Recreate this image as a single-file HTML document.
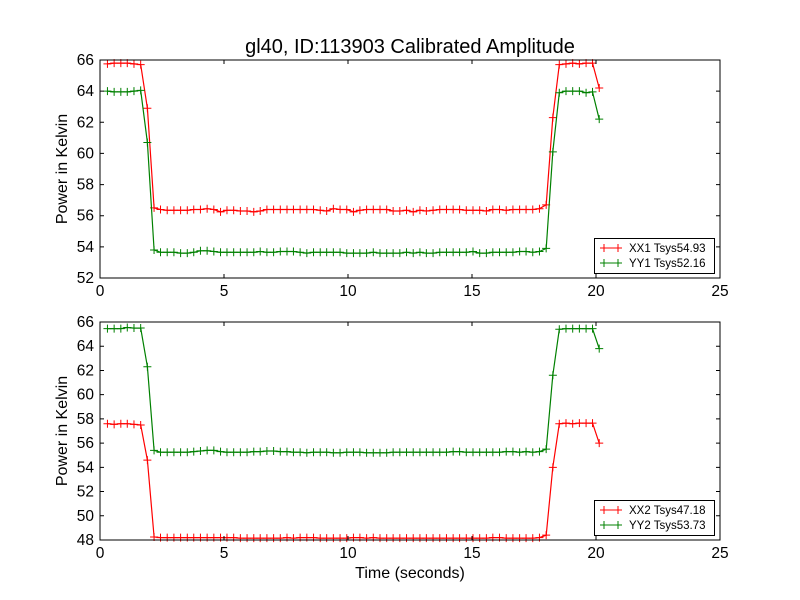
<!DOCTYPE html>
<html><head><meta charset="utf-8"><style>
html,body{margin:0;padding:0;background:#fff;}
svg{display:block;font-family:"Liberation Sans","DejaVu Sans",sans-serif;}
</style></head><body>
<svg id="chart" width="800" height="600" xmlns="http://www.w3.org/2000/svg">
<rect width="800" height="600" fill="#fff"/>
<text x="410" y="53" font-size="20" text-anchor="middle">gl40, ID:113903 Calibrated Amplitude</text>
<text x="410" y="578" font-size="16" text-anchor="middle">Time (seconds)</text>
</svg>
<script>
const times=[0.30,0.57,0.84,1.10,1.37,1.64,1.91,2.18,2.44,2.71,2.98,3.25,3.52,3.78,4.05,4.32,4.59,4.86,5.12,5.39,5.66,5.93,6.20,6.46,6.73,7.00,7.27,7.54,7.80,8.07,8.34,8.61,8.88,9.14,9.41,9.68,9.95,10.22,10.48,10.75,11.02,11.29,11.56,11.82,12.09,12.36,12.63,12.90,13.16,13.43,13.70,13.97,14.24,14.50,14.77,15.04,15.31,15.58,15.84,16.11,16.38,16.65,16.92,17.18,17.45,17.72,17.99,18.26,18.52,18.79,19.06,19.33,19.60,19.86,20.13];
const xx1=[65.75,65.8,65.8,65.8,65.75,65.7,62.9,56.5,56.4,56.35,56.35,56.35,56.35,56.4,56.4,56.45,56.4,56.25,56.35,56.35,56.3,56.3,56.25,56.3,56.4,56.4,56.4,56.4,56.4,56.4,56.4,56.4,56.35,56.3,56.45,56.4,56.4,56.25,56.35,56.4,56.4,56.4,56.4,56.3,56.3,56.35,56.25,56.35,56.3,56.35,56.4,56.4,56.4,56.4,56.35,56.35,56.35,56.3,56.4,56.4,56.35,56.4,56.4,56.4,56.4,56.45,56.7,62.3,65.7,65.75,65.8,65.75,65.8,65.8,64.2];
const yy1=[64.0,63.95,63.95,63.95,64.0,64.05,60.7,53.8,53.65,53.65,53.65,53.6,53.6,53.65,53.75,53.75,53.7,53.65,53.65,53.65,53.65,53.65,53.65,53.7,53.65,53.65,53.7,53.7,53.7,53.65,53.6,53.65,53.65,53.65,53.65,53.65,53.6,53.6,53.6,53.6,53.65,53.6,53.6,53.6,53.6,53.65,53.6,53.65,53.6,53.6,53.65,53.65,53.65,53.65,53.65,53.7,53.6,53.6,53.65,53.65,53.65,53.65,53.7,53.7,53.65,53.7,53.9,60.1,63.9,64.0,64.0,64.0,63.9,63.95,62.2];
const xx2=[57.6,57.55,57.6,57.6,57.55,57.5,54.6,48.25,48.2,48.2,48.2,48.2,48.2,48.2,48.2,48.2,48.2,48.2,48.2,48.2,48.15,48.15,48.15,48.15,48.15,48.15,48.15,48.2,48.15,48.2,48.2,48.2,48.15,48.15,48.15,48.15,48.15,48.2,48.2,48.15,48.2,48.15,48.15,48.15,48.15,48.15,48.15,48.15,48.15,48.15,48.15,48.15,48.15,48.15,48.15,48.15,48.15,48.15,48.2,48.2,48.15,48.15,48.15,48.15,48.15,48.2,48.4,54.0,57.6,57.65,57.6,57.65,57.65,57.65,56.0];
const yy2=[65.45,65.45,65.45,65.55,65.5,65.5,62.3,55.4,55.25,55.25,55.25,55.25,55.25,55.3,55.35,55.4,55.4,55.3,55.25,55.25,55.25,55.25,55.3,55.3,55.35,55.35,55.3,55.3,55.25,55.25,55.2,55.25,55.25,55.25,55.2,55.2,55.25,55.25,55.25,55.2,55.2,55.2,55.2,55.25,55.25,55.25,55.25,55.25,55.25,55.25,55.25,55.25,55.3,55.3,55.25,55.25,55.25,55.25,55.25,55.25,55.3,55.3,55.25,55.3,55.25,55.3,55.5,61.6,65.4,65.45,65.45,65.45,65.45,65.45,63.8];
const xTicks=[0,5,10,15,20,25];
const yTicksTop=[52,54,56,58,60,62,64,66];
const yTicksBot=[48,50,52,54,56,58,60,62,64,66];
const legendTop=["XX1 Tsys54.93","YY1 Tsys52.16"];
const legendBot=["XX2 Tsys47.18","YY2 Tsys53.73"];

const NS="http://www.w3.org/2000/svg";
const svg=document.getElementById('chart');
function mk(tag,attrs,parent){const e=document.createElementNS(NS,tag);for(const k in attrs)e.setAttribute(k,attrs[k]);(parent||svg).appendChild(e);return e;}

function panel(name,top,bottom,ymin,ymax,yTicks,series,colors,labels,legendY){
  const L=100,R=720;
  const g=mk('g',{});
  
  
  const xs=v=>L+(v-0)/(25-0)*(R-L);
  const ys=v=>bottom-(v-ymin)/(ymax-ymin)*(bottom-top);
  series.forEach((s,si)=>{
    const pts=times.map((t,i)=>xs(t).toFixed(1)+','+ys(s[i]).toFixed(1)).join(' ');
    const pl=mk('polyline',{points:pts,fill:'none',stroke:colors[si],'stroke-width':1.2},g);
    
    
    times.forEach((t,i)=>{
      const x=xs(t),y=ys(s[i]);
      const m=mk('path',{d:`M${x-4},${y}H${x+4}M${x},${y-4}V${y+4}`,stroke:colors[si],'stroke-width':1},g);
      
      
    });
  });
  const fr=mk('rect',{x:L,y:top,width:R-L,height:bottom-top,fill:'none',stroke:'#000','stroke-width':1},g);
  
  
  xTicks.forEach(v=>{
    const x=xs(v);
    mk('path',{d:`M${x},${bottom}v-4M${x},${top}v4`,stroke:'#000'},g);
    const t=mk('text',{x:x,y:bottom+18,'font-size':15.5,'text-anchor':'middle'},g);
    t.textContent=v;
    
    
  });
  yTicks.forEach(v=>{
    const y=ys(v);
    mk('path',{d:`M${L},${y}h4M${R},${y}h-4`,stroke:'#000'},g);
    const t=mk('text',{x:L-6,y:y+5,'font-size':15.5,'text-anchor':'end'},g);
    t.textContent=v;
    
    
  });
  const yl=mk('text',{x:0,y:0,'font-size':16,'text-anchor':'middle',transform:`translate(67,${(top+bottom)/2}) rotate(-90)`},g);
  yl.textContent='Power in Kelvin';
  
  
  const lg=mk('g',{},g);
  
  
  mk('rect',{x:594.5,y:legendY+0.5,width:120,height:35,fill:'#fff',stroke:'#000'},lg);
  labels.forEach((lab,i)=>{
    const y=legendY+10+i*15;
    mk('path',{d:`M600,${y}H622M604,${y-4}v8M618,${y-4}v8`,stroke:colors[i]},lg);
    const t=mk('text',{x:629,y:y+4,'font-size':11.5},lg);
    t.textContent=lab;
    
    
  });
}
panel('top-panel',60,278,52,66,yTicksTop,[xx1,yy1],['#ff0000','#008000'],legendTop,238);
panel('bottom-panel',322,540,48,66,yTicksBot,[xx2,yy2],['#ff0000','#008000'],legendBot,500);
</script>
</body></html>
